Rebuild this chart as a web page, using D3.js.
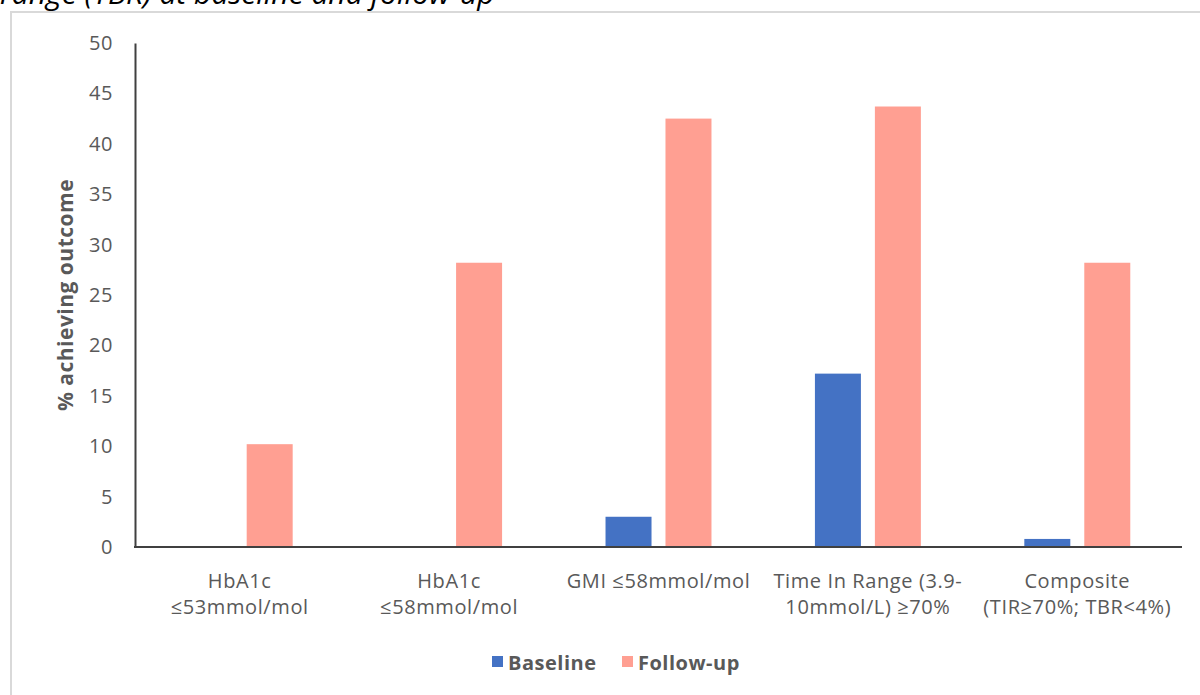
<!DOCTYPE html>
<html>
<head>
<meta charset="utf-8">
<script src="https://cdn.jsdelivr.net/npm/d3@7"></script>
<style>
  html, body { margin: 0; padding: 0; background: #fff; }
  svg { display: block; }
  text { font-family: "Open Sans", "Noto Sans", sans-serif; }
</style>
</head>
<body>
<svg id="chart" width="1200" height="695"></svg>
<script>
const categories = [
  ["HbA1c", "≤53mmol/mol"],
  ["HbA1c", "≤58mmol/mol"],
  ["GMI ≤58mmol/mol"],
  ["Time In Range (3.9-", "10mmol/L) ≥70%"],
  ["Composite", "(TIR≥70%; TBR<4%)"]
];
const seriesNames = ["Baseline", "Follow-up"];
const baselineValues = [0, 0, 3.0, 17.2, 0.8];
const followupValues = [10.2, 28.2, 42.5, 43.7, 28.2];
const yTicks = [0, 5, 10, 15, 20, 25, 30, 35, 40, 45, 50];
const colors = ["#4472C4", "#FF9F92"];

const svg = d3.select("#chart");
const m = { left: 135, right: 1182, top: 43, bottom: 547 };

// cropped title text from the page above
svg.append("text")
  .attr("x", 0).attr("y", 4)
  .attr("font-size", 30).attr("font-style", "italic").attr("fill", "#000")
  .text("range (TBR) at baseline and follow-up");

// chart frame
svg.append("rect")
  .attr("x", 11).attr("y", 12).attr("width", 1300).attr("height", 800)
  .attr("fill", "#fff").attr("stroke", "#d9d9d9").attr("stroke-width", 2);

const idx = d3.range(categories.length);
const x0 = d3.scaleBand().domain(idx).range([m.left, m.right])
  .paddingInner(0.494).paddingOuter(0.247);
const x1 = d3.scaleBand().domain(seriesNames).range([0, x0.bandwidth()])
  .paddingInner(0.233).paddingOuter(0);
const y = d3.scaleLinear().domain([0, 50]).range([m.bottom, m.top]);

const data = idx.map(i => ({ i, vals: [
  { s: seriesNames[0], v: baselineValues[i] },
  { s: seriesNames[1], v: followupValues[i] }
]}));

svg.append("g").selectAll("g.grp").data(data).join("g")
  .attr("transform", d => `translate(${x0(d.i)},0)`)
  .selectAll("rect").data(d => d.vals).join("rect")
  .attr("x", d => x1(d.s))
  .attr("width", x1.bandwidth())
  .attr("y", d => y(d.v))
  .attr("height", d => y(0) - y(d.v))
  .attr("fill", d => colors[seriesNames.indexOf(d.s)]);

// y axis
const yAxis = d3.axisLeft(y).tickValues(yTicks).tickSize(0).tickPadding(22);
const ya = svg.append("g").attr("transform", `translate(${m.left},0)`).call(yAxis);
ya.select(".domain").attr("stroke", "#404040").attr("stroke-width", 2);
ya.selectAll("text").attr("font-size", 20).attr("fill", "#595959")
  .attr("letter-spacing", 0.6)
  .attr("font-family", "'Open Sans', sans-serif");

// x axis line
svg.append("line")
  .attr("x1", m.left - 1).attr("x2", m.right)
  .attr("y1", y(0)).attr("y2", y(0))
  .attr("stroke", "#404040").attr("stroke-width", 2);

// x labels
const xl = svg.append("g");
categories.forEach((lines, i) => {
  const cx = x0(i) + x0.bandwidth() / 2;
  const t = xl.append("text").attr("text-anchor", "middle")
    .attr("font-size", 20).attr("letter-spacing", 0.6).attr("fill", "#595959");
  lines.forEach((ln, k) => {
    t.append("tspan").attr("x", cx).attr("y", 588 + k * 26).text(ln);
  });
});

// y label
svg.append("text")
  .attr("transform", `translate(73,${(m.top + m.bottom) / 2}) rotate(-90)`)
  .attr("text-anchor", "middle")
  .attr("font-size", 21).attr("font-weight", "bold").attr("letter-spacing", 0.5)
  .attr("fill", "#595959")
  .text("% achieving outcome");

// legend
const legendX = [492, 622];
seriesNames.forEach((s, k) => {
  svg.append("rect").attr("x", legendX[k]).attr("y", 656)
    .attr("width", 11).attr("height", 11).attr("fill", colors[k]);
  svg.append("text").attr("x", legendX[k] + 16).attr("y", 670)
    .attr("font-size", 20).attr("font-weight", "bold").attr("letter-spacing", 0.5)
    .attr("fill", "#595959")
    .text(s);
});
</script>
</body>
</html>
